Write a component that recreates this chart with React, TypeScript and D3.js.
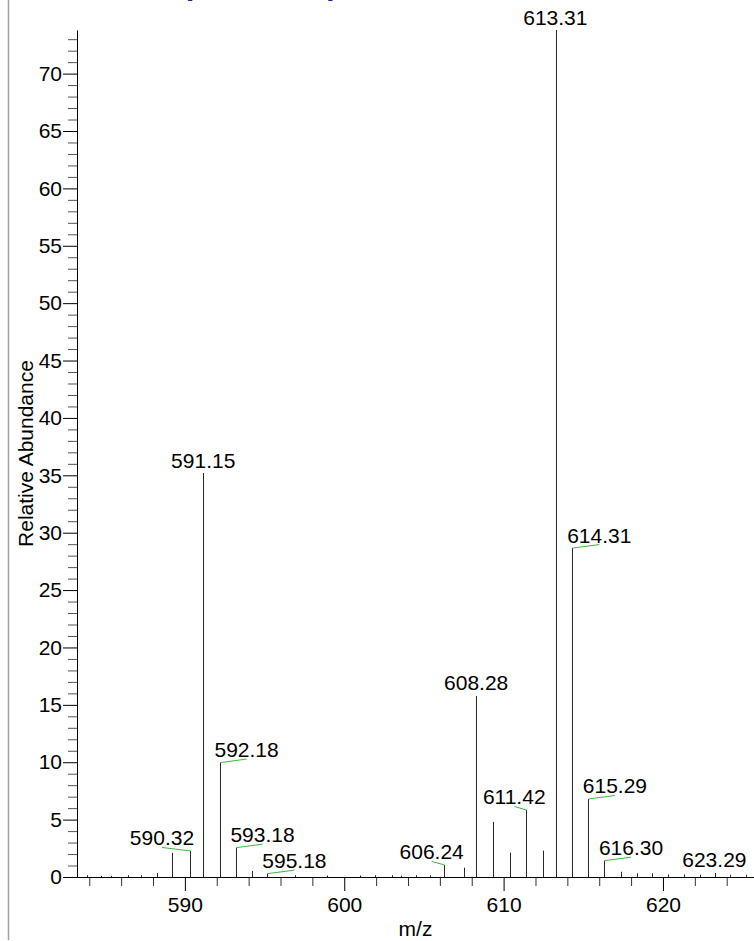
import { useEffect, useRef } from 'react'
import * as d3 from 'd3'

// peak list (m/z, relative abundance)
const peakMz = [
  583.83, 584.76, 585.39, 586.43, 587.27, 588.27, 589.2, 590.32, 591.15, 592.18, 593.18, 594.19, 595.18,
  596.9, 598.9, 601.0, 601.9, 603.0, 603.56, 604.5, 605.38, 606.24, 607.49, 608.28, 609.36, 610.42, 611.42,
  612.5, 613.31, 614.31, 615.29, 616.3, 617.39, 618.35, 619.3, 620.3, 621.35, 622.3, 623.29, 624.2, 625.2,
]
const peakAbundance = [
  0.15, 0.1, 0.1, 0.15, 0.15, 0.35, 2.1, 2.27, 35.2, 9.97, 2.56, 0.52, 0.29,
  0.15, 0.12, 0.12, 0.15, 0.15, 0.12, 0.15, 0.15, 1.05, 0.81, 15.78, 4.8, 2.12, 5.84,
  2.3, 73.8, 28.66, 6.8, 1.42, 0.46, 0.32, 0.32, 0.22, 0.22, 0.2, 0.35, 0.2, 0.2,
]

// annotated peaks and how far (px) their label is pushed sideways
const labelMz = [590.32, 591.15, 592.18, 593.18, 595.18, 606.24, 608.28, 611.42, 613.31, 614.31, 615.29, 616.3, 623.29]
const labelShift = [-28, 0, 27, 27, 27, -12, 0, -12, -1, 27, 27, 27, -1]

const xMajorTicks = [590, 600, 610, 620]
const xMinorTicks = d3.range(584, 626, 2).filter((v) => v % 10 !== 0)
const yMajorTicks = d3.range(0, 71, 5)
const yMinorTicks = d3.range(0, 74, 1).filter((v) => v % 5 !== 0)

// scan header, only the bracket tails show at the top edge
const headerText = '[300.00-950.00]'

export default function App() {
  const svgRef = useRef<SVGSVGElement>(null)

  useEffect(() => {
    if (!svgRef.current) return

    const svg = d3.select(svgRef.current)
    const width = 754
    const height = 941
    const plot = { left: 77, right: 753, top: 30, bottom: 877 }
    const font = "'Liberation Sans', Arial, sans-serif"
    const fontSize = 21

    svg.selectAll('*').remove()
    svg.attr('width', width).attr('height', height).attr('font-family', font)

    const x = d3.scaleLinear().domain([583.23, 625.65]).range([plot.left, plot.right])
    const y = d3.scaleLinear().domain([0, 73.8]).range([plot.bottom, plot.top])

    // panel border on the left
    svg
      .append('line')
      .attr('x1', 8.5)
      .attr('x2', 8.5)
      .attr('y1', 0)
      .attr('y2', 940)
      .attr('stroke', '#a0a0a0')
      .attr('stroke-width', 1.5)

    svg
      .append('text')
      .attr('x', 186.6)
      .attr('y', -2.8)
      .attr('fill', '#1c1cb4')
      .attr('font-size', fontSize)
      .text(headerText)

    // y axis: minor then major ticks
    svg
      .append('g')
      .attr('transform', `translate(${plot.left},0)`)
      .call(d3.axisLeft(y).tickValues(yMinorTicks).tickSize(9).tickSizeOuter(0).tickFormat(() => ''))
      .attr('color', '#555')
      .call((g) => g.select('.domain').remove())

    svg
      .append('g')
      .attr('transform', `translate(${plot.left},0)`)
      .call(
        d3
          .axisLeft(y)
          .tickValues(yMajorTicks)
          .tickSize(14)
          .tickSizeOuter(0)
          .tickPadding(1)
          .tickFormat((d) => String(d))
      )
      .attr('color', '#000')
      .attr('font-size', fontSize)
      .attr('font-family', font)

    // x axis
    svg
      .append('g')
      .attr('transform', `translate(0,${plot.bottom})`)
      .call(d3.axisBottom(x).tickValues(xMinorTicks).tickSize(9).tickSizeOuter(0).tickFormat(() => ''))
      .attr('color', '#333')
      .call((g) => g.select('.domain').remove())

    svg
      .append('g')
      .attr('transform', `translate(0,${plot.bottom})`)
      .call(
        d3
          .axisBottom(x)
          .tickValues(xMajorTicks)
          .tickSize(14)
          .tickSizeOuter(0)
          .tickPadding(6)
          .tickFormat((d) => String(d))
      )
      .attr('color', '#000')
      .attr('font-size', fontSize)
      .attr('font-family', font)
      .call((g) => g.select('.domain').attr('d', `M${plot.left},0.5H${width}`))

    // axis titles
    svg
      .append('text')
      .attr('x', (plot.left + width) / 2)
      .attr('y', 936)
      .attr('text-anchor', 'middle')
      .attr('font-size', fontSize)
      .attr('fill', '#000')
      .text('m/z')

    svg
      .append('text')
      .attr('transform', `translate(33,${(plot.top + plot.bottom) / 2}) rotate(-90)`)
      .attr('text-anchor', 'middle')
      .attr('font-size', fontSize)
      .attr('fill', '#000')
      .text('Relative Abundance')

    // stick spectrum
    const peaks = peakMz.map((m, i) => ({ mz: m, value: peakAbundance[i] }))

    svg
      .append('g')
      .selectAll('line')
      .data(peaks)
      .join('line')
      .attr('x1', (d) => Math.round(x(d.mz)) + 0.5)
      .attr('x2', (d) => Math.round(x(d.mz)) + 0.5)
      .attr('y1', y(0))
      .attr('y2', (d) => y(d.value))
      .attr('stroke', '#2a2a2a')
      .attr('stroke-width', 1)

    // peak labels with green leader lines when shifted
    const labels = labelMz.map((m, i) => {
      const idx = peakMz.indexOf(m)
      return { mz: m, value: peakAbundance[idx], shift: labelShift[i] }
    })

    const lg = svg.append('g')

    lg.selectAll('line')
      .data(labels.filter((d) => Math.abs(d.shift) > 2))
      .join('line')
      .attr('x1', (d) => Math.round(x(d.mz)) + 0.5)
      .attr('y1', (d) => y(d.value))
      .attr('x2', (d) => x(d.mz) + d.shift)
      .attr('y2', (d) => y(d.value) - 3.5)
      .attr('stroke', '#3cb83c')
      .attr('stroke-width', 1)

    lg.selectAll('text')
      .data(labels)
      .join('text')
      .attr('x', (d) => x(d.mz) + d.shift)
      .attr('y', (d) => y(d.value) - 5.5)
      .attr('text-anchor', 'middle')
      .attr('font-size', fontSize)
      .attr('fill', '#000')
      .text((d) => d.mz.toFixed(2))
  }, [])

  return (
    <div style={{ position: 'absolute', left: 0, top: 0 }}>
      <svg ref={svgRef}></svg>
    </div>
  )
}
